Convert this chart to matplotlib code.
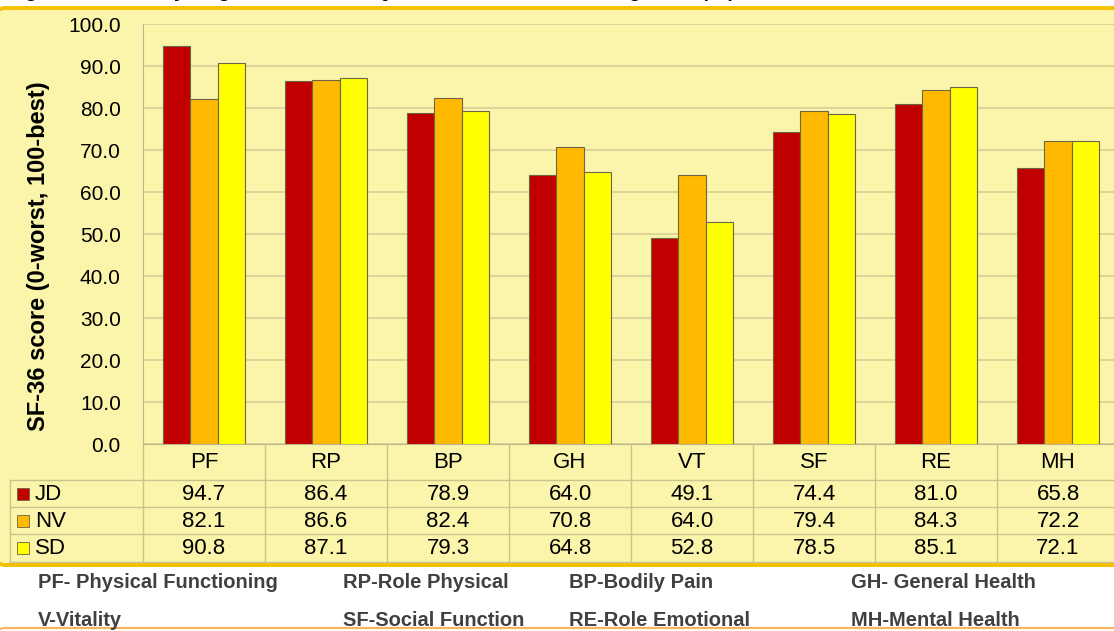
import numpy as np
import matplotlib.pyplot as plt
from matplotlib.patches import FancyBboxPatch, Rectangle

plt.rcParams['font.family'] = ['Liberation Sans', 'DejaVu Sans']

# data
categories = ['PF', 'RP', 'BP', 'GH', 'VT', 'SF', 'RE', 'MH']
series = ['JD', 'NV', 'SD']
jd = [94.7, 86.4, 78.9, 64.0, 49.1, 74.4, 81.0, 65.8]
nv = [82.1, 86.6, 82.4, 70.8, 64.0, 79.4, 84.3, 72.2]
sd = [90.8, 87.1, 79.3, 64.8, 52.8, 78.5, 85.1, 72.1]
colors = ['#C00000', '#FFB900', '#FFFF00']
yticks = np.arange(0, 101, 10)
ylabel = 'SF-36 score (0-worst, 100-best)'
notes_row1 = ['PF- Physical Functioning', 'RP-Role Physical', 'BP-Bodily Pain', 'GH- General Health']
notes_row2 = ['V-Vitality', 'SF-Social Function', 'RE-Role Emotional', 'MH-Mental Health']
title = 'Figure 3: Summary diagram \u2013 SF-36 HRQoL for JD, NV, SD and the general population'

W, H = 1114, 631
panel_bg = '#FAF5AA'
grid_c = '#D6CE96'
line_c = '#CBC38C'

def fx(px):
    return px / W

def fy(py):
    return 1 - py / H

fig = plt.figure(figsize=(W / 100, H / 100), dpi=100)
fig.patch.set_facecolor('white')

# yellow panel behind chart + table
panel = FancyBboxPatch((-4, H - 565), W + 20, 565 - 8,
                       boxstyle='round,pad=0,rounding_size=9',
                       transform=None, fc=panel_bg, ec='#F4C000', lw=2.8, zorder=-2)
fig.add_artist(panel)
# top edge of the next box at the very bottom
box2 = FancyBboxPatch((-4, -20), W + 20, 20 + H - 628,
                      boxstyle='round,pad=0,rounding_size=9',
                      transform=None, fc='#FFFDF0', ec='#F6B55C', lw=1.5, zorder=-2)
fig.add_artist(box2)

# title line, mostly cut off by the top edge as in the source
fig.text(fx(8), fy(-3), title, fontsize=14, fontweight='bold', va='baseline', ha='left')

# bar chart
ax = fig.add_axes([fx(143), fy(444), (1119 - 143) / W, (444 - 24) / H])
ax.set_facecolor('none')
x = np.arange(len(categories))
bw = 0.224
for k, vals in enumerate([jd, nv, sd]):
    ax.bar(x + (k - 1) * bw, vals, bw, color=colors[k], edgecolor='#6E6446',
           linewidth=0.8, zorder=3)
ax.set_xlim(-0.5, len(categories) - 0.5)
ax.set_ylim(0, 100)
ax.set_yticks(yticks)
ax.set_yticklabels(['%.1f' % v for v in yticks], fontsize=15)
ax.tick_params(axis='y', length=0, pad=16)
ax.set_xticks([])
ax.yaxis.grid(True, color=grid_c, lw=1.2, zorder=0)
for s in ['top', 'right']:
    ax.spines[s].set_visible(False)
ax.spines['left'].set_color('#BDB68A')
ax.spines['bottom'].set_color('#BDB68A')

fig.text(fx(39), fy(256), ylabel, rotation=90, ha='center', va='center',
         fontsize=17, fontweight='bold')

# data table under the chart, y in pixel rows
tab = fig.add_axes([fx(10), fy(562), (1119 - 10) / W, (562 - 444) / H])
x0 = -0.5 - 133 / 122
tab.set_xlim(x0, len(categories) - 0.5)
tab.set_ylim(562, 444)
tab.axis('off')

def px2x(p):
    return -0.5 + (p - 143) / 122

row_edges = [480, 507, 534, 562]
for yy in row_edges:
    tab.plot([x0, len(categories) - 0.5], [yy, yy], color=line_c, lw=1, clip_on=False)
for i in range(len(categories) + 1):
    tab.plot([i - 0.5, i - 0.5], [444, 562], color=line_c, lw=1, clip_on=False)
tab.plot([x0, x0], [480, 562], color=line_c, lw=1, clip_on=False)

for i, c in enumerate(categories):
    tab.text(i, 463, c, ha='center', va='center', fontsize=16)

for r, (name, vals) in enumerate(zip(series, [jd, nv, sd])):
    yc = (row_edges[r] + row_edges[r + 1]) / 2
    tab.add_patch(Rectangle((px2x(17), yc - 6), 12 / 122, 12, fc=colors[r],
                            ec='#6E6446', lw=0.6, clip_on=False))
    tab.text(px2x(35), yc + 1, name, ha='left', va='center', fontsize=16)
    for i, v in enumerate(vals):
        tab.text(i, yc + 1, '%.1f' % v, ha='center', va='center', fontsize=16)

# abbreviation notes
note_x = [38, 343, 569, 851]
for row, yy in [(notes_row1, 583), (notes_row2, 620)]:
    for t, xx in zip(row, note_x):
        fig.text(fx(xx), fy(yy), t, ha='left', va='center', fontsize=14.5,
                 fontweight='bold', color='#404040')

fig.savefig('out.png', dpi=100)
